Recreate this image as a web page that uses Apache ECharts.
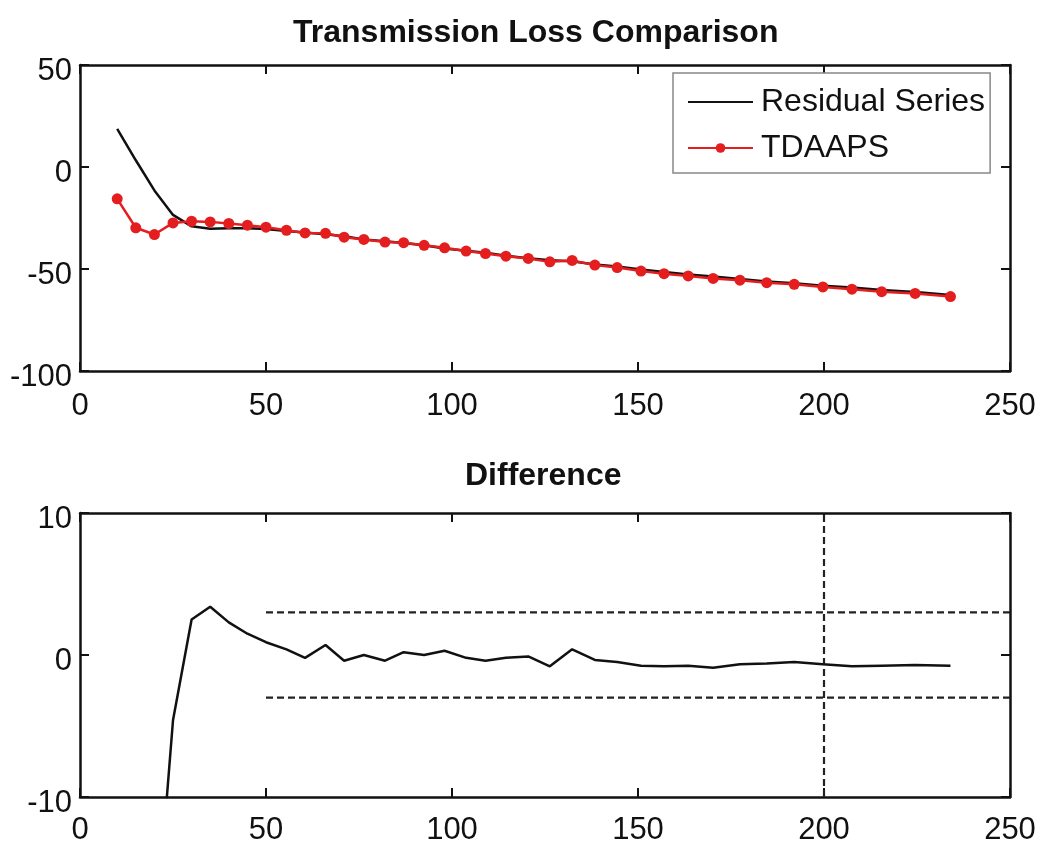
<!DOCTYPE html>
<html>
<head>
<meta charset="utf-8">
<script src="https://cdn.jsdelivr.net/npm/echarts@6/dist/echarts.min.js"></script>
<style>
html,body{margin:0;padding:0;background:#fff;}
#chart{width:1042px;height:848px;}
</style>
</head>
<body>
<div id="chart"></div>
<script>
// ---- data ----
const rangeX = [10, 15, 20, 25, 30, 35, 40, 45, 50, 55.5, 60.5, 66, 71, 76.3, 82, 87, 92.5, 98, 103.8, 109, 114.5, 120.5, 126.3, 132.3, 138.4, 144.4, 150.8, 157, 163.5, 170.2, 177.4, 184.6, 192, 199.7, 207.5, 215.5, 224.5, 234];
const residualSeries = [18.7, 3.3, -11.5, -23.5, -29.1, -30.3, -30.0, -30.0, -30.4, -31.4, -32.1, -33.0, -34.0, -35.5, -36.4, -37.3, -38.4, -39.9, -41.0, -42.0, -43.5, -44.7, -45.7, -46.2, -47.8, -48.8, -50.3, -51.5, -52.7, -53.7, -54.9, -56.1, -57.0, -58.2, -59.1, -60.3, -61.3, -62.8];
const tdaaps = [-15.6, -29.8, -33.1, -27.4, -26.6, -26.9, -27.7, -28.5, -29.5, -31.0, -32.3, -32.5, -34.4, -35.5, -36.8, -37.1, -38.4, -39.6, -41.2, -42.4, -43.7, -44.8, -46.5, -45.8, -48.1, -49.3, -51.0, -52.3, -53.4, -54.6, -55.5, -56.7, -57.5, -58.8, -59.9, -61.1, -62.0, -63.5];
const difference = [-34.3, -33.1, -21, -4.6, 2.5, 3.4, 2.3, 1.5, 0.9, 0.4, -0.2, 0.7, -0.4, 0, -0.4, 0.2, 0, 0.3, -0.2, -0.4, -0.2, -0.1, -0.8, 0.4, -0.35, -0.5, -0.75, -0.8, -0.75, -0.9, -0.65, -0.6, -0.5, -0.65, -0.8, -0.75, -0.7, -0.75];
const limitLevels = [3, -3];
const limitStartX = 50;
const limitEndX = 250;
const markerX = 200;
const xTicks = [0, 50, 100, 150, 200, 250];
const topYTicks = [-100, -50, 0, 50];
const bottomYTicks = [-10, 0, 10];

// ---- build ----
const zip = (xs, ys) => xs.map((x, i) => [x, ys[i]]);
const FONT = 'Liberation Sans';
const tickLabel = {fontFamily: FONT, fontSize: 31, color: '#111'};

function xAx(grid, pos, showLabel, margin) {
  return {
    type: 'value', gridIndex: grid, position: pos,
    min: xTicks[0], max: xTicks[xTicks.length - 1], interval: xTicks[1] - xTicks[0],
    axisLine: {show: true, onZero: false, lineStyle: {color: '#111', width: 2.5}},
    axisTick: {show: true, inside: true, length: 9, lineStyle: {color: '#111', width: 2}},
    axisLabel: Object.assign({show: showLabel, margin: margin}, tickLabel),
    splitLine: {show: false}
  };
}
function yAx(grid, pos, ticks, showLabel) {
  return {
    type: 'value', gridIndex: grid, position: pos,
    min: ticks[0], max: ticks[ticks.length - 1], interval: ticks[1] - ticks[0],
    axisLine: {show: true, onZero: false, lineStyle: {color: '#111', width: 2.5}},
    axisTick: {show: true, inside: true, length: 9, lineStyle: {color: '#111', width: 2}},
    axisLabel: Object.assign({show: showLabel, margin: 8, verticalAlign: 'top', lineHeight: 12}, tickLabel),
    splitLine: {show: false}
  };
}

const dashed = {color: '#222', width: 2.2, type: [7, 4]};

const option = {
  animation: false,
  backgroundColor: '#fff',
  title: [
    {text: 'Transmission Loss Comparison', left: 293, top: 17, padding: 0,
     textStyle: {fontFamily: FONT, fontSize: 32, fontWeight: 'bold', color: '#111'}},
    {text: 'Difference', left: 465, top: 460, padding: 0,
     textStyle: {fontFamily: FONT, fontSize: 32, fontWeight: 'bold', color: '#111'}}
  ],
  grid: [
    {left: 80, top: 65, width: 930, height: 306},
    {left: 80, top: 513, width: 930, height: 284}
  ],
  xAxis: [
    xAx(0, 'bottom', true, 20), xAx(0, 'top', false, 8),
    xAx(1, 'bottom', true, 18), xAx(1, 'top', false, 8)
  ],
  yAxis: [
    yAx(0, 'left', topYTicks, true), yAx(0, 'right', topYTicks, false),
    yAx(1, 'left', bottomYTicks, true), yAx(1, 'right', bottomYTicks, false)
  ],
  legend: {
    orient: 'vertical', left: 673, top: 73,
    padding: [13, 5, 9, 14], itemGap: 14,
    itemWidth: 65, itemHeight: 12,
    backgroundColor: '#fff', borderColor: '#888', borderWidth: 1.5, borderRadius: 0,
    textStyle: {fontFamily: FONT, fontSize: 32, color: '#111', lineHeight: 32, padding: [0, 0, 0, 3]},
    data: [
      {name: 'Residual Series', itemStyle: {opacity: 0}},
      'TDAAPS'
    ]
  },
  series: [
    {name: 'Residual Series', type: 'line', xAxisIndex: 0, yAxisIndex: 0,
     data: zip(rangeX, residualSeries), showSymbol: false, symbol: 'none',
     lineStyle: {color: '#111', width: 2.5}, itemStyle: {color: '#111'}, z: 2},
    {name: 'TDAAPS', type: 'line', xAxisIndex: 0, yAxisIndex: 0,
     data: zip(rangeX, tdaaps), symbol: 'circle', symbolSize: 11, showAllSymbol: true,
     lineStyle: {color: '#e41e1e', width: 2.5}, itemStyle: {color: '#e41e1e'}, z: 3},
    {name: 'Difference', type: 'line', xAxisIndex: 2, yAxisIndex: 2,
     data: zip(rangeX, difference), symbol: 'none', clip: true,
     lineStyle: {color: '#111', width: 2.5}, z: 3},
    {name: 'Upper limit', type: 'line', xAxisIndex: 2, yAxisIndex: 2,
     data: [[limitStartX, limitLevels[0]], [limitEndX, limitLevels[0]]], symbol: 'none',
     lineStyle: dashed, z: 2},
    {name: 'Lower limit', type: 'line', xAxisIndex: 2, yAxisIndex: 2,
     data: [[limitStartX, limitLevels[1]], [limitEndX, limitLevels[1]]], symbol: 'none',
     lineStyle: dashed, z: 2},
    {name: 'Marker', type: 'line', xAxisIndex: 2, yAxisIndex: 2,
     data: [[markerX, bottomYTicks[0]], [markerX, bottomYTicks[bottomYTicks.length - 1]]], symbol: 'none',
     lineStyle: dashed, z: 2}
  ]
};

const chart = echarts.init(document.getElementById('chart'), null, {renderer: 'canvas'});
chart.setOption(option);
</script>
</body>
</html>
